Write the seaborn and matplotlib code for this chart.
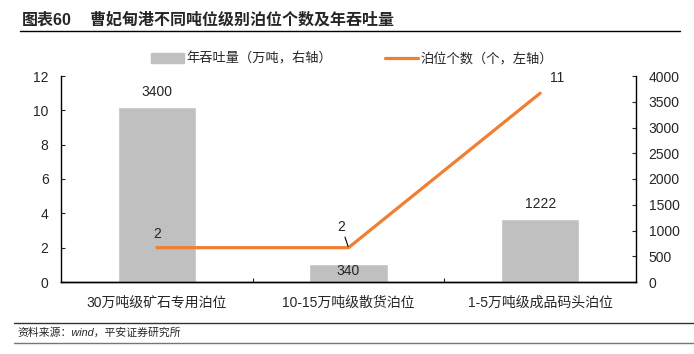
#!/usr/bin/env python3
"""
Caofeidian port: berth counts (line, left axis) and annual throughput (bars, right axis)
"""

import pandas as pd
import matplotlib.pyplot as plt
import seaborn as sns
from matplotlib.lines import Line2D
from matplotlib.patches import Patch

# data
categories = ['30万吨级矿石专用泊位', '10-15万吨级散货泊位', '1-5万吨级成品码头泊位']
throughput = [3400, 340, 1222]      # 万吨, right axis
berth_count = [2, 2, 11]            # 个, left axis
left_ticks = [0, 2, 4, 6, 8, 10, 12]
right_ticks = [0, 500, 1000, 1500, 2000, 2500, 3000, 3500, 4000]

BAR_COLOR = '#C0C0C0'
LINE_COLOR = '#F07F32'

sns.set_style('ticks')
plt.rcParams['font.family'] = ['Liberation Sans', 'Noto Sans CJK SC', 'DejaVu Sans']
plt.rcParams['axes.unicode_minus'] = False

df = pd.DataFrame({'cat': categories, 'throughput': throughput, 'berths': berth_count})
df['pos'] = range(len(df))

fig = plt.figure(figsize=(6.94, 3.54), dpi=100)
ax = fig.add_axes([61 / 694, 1 - 282 / 354, 575 / 694, 206 / 354])
ax2 = ax.twinx()

# bars on right axis
sns.barplot(data=df, x='cat', y='throughput', color=BAR_COLOR, width=0.41,
            saturation=1, ax=ax2, order=categories)
ax2.set_ylim(0, 4000)
ax2.set_yticks(right_ticks)

# line on left axis, drawn above the bars
sns.lineplot(data=df, x='pos', y='berths', color=LINE_COLOR, linewidth=2.3, ax=ax)
ax.set_zorder(ax2.get_zorder() + 1)
ax.patch.set_visible(False)
ax.set_ylim(0, 12)
ax.set_yticks(left_ticks)
ax.set_xlim(-0.5, len(categories) - 0.5)
ax2.set_xlim(-0.5, len(categories) - 0.5)

# bar value labels
for i, v in enumerate(throughput):
    if v < 500:
        ax2.annotate(str(v), (i, v), xytext=(0, 0), textcoords='offset points',
                     ha='center', va='top', fontsize=10)
    else:
        ax2.annotate(str(v), (i, v), xytext=(0, 6), textcoords='offset points',
                     ha='center', va='bottom', fontsize=10)

# line value labels
ax.annotate(str(berth_count[0]), (0, berth_count[0]), xytext=(0, 5),
            textcoords='offset points', ha='center', va='bottom', fontsize=10)
ax.annotate(str(berth_count[1]), (1, berth_count[1]), xytext=(-5, 10),
            textcoords='offset points', ha='center', va='bottom', fontsize=10,
            arrowprops=dict(arrowstyle='-', color='black', lw=0.8, shrinkA=0, shrinkB=1))
ax.annotate(str(berth_count[2]), (2, berth_count[2]), xytext=(12, 6),
            textcoords='offset points', ha='center', va='bottom', fontsize=10)

# axes styling
for a in (ax, ax2):
    a.spines['top'].set_visible(False)
    for s in ('left', 'right', 'bottom'):
        a.spines[s].set_color('black')
        a.spines[s].set_linewidth(1.0)
    a.set_xlabel('')
    a.set_ylabel('')
ax.spines['right'].set_visible(False)
ax2.spines['left'].set_visible(False)
ax.tick_params(axis='y', direction='in', length=3, labelsize=10, pad=9)
ax2.tick_params(axis='y', direction='in', length=3, labelsize=10, pad=9)
ax.set_xticks([0.5, 1.5])
ax.set_xticklabels([])
ax.tick_params(axis='x', direction='in', length=3)
ax2.tick_params(axis='x', length=0, labelbottom=False)
for i, c in enumerate(categories):
    ax.text(i, -0.065, c, transform=ax.get_xaxis_transform(), ha='center',
            va='top', fontsize=10)

# legend
handles = [Patch(color=BAR_COLOR), Line2D([], [], color=LINE_COLOR, lw=2.3)]
labels = ['年吞吐量（万吨，右轴）', '泊位个数（个，左轴）']
fig.legend(handles, labels, loc='center', bbox_to_anchor=(352 / 694, 1 - 59 / 354),
           ncol=2, frameon=False, fontsize=9.5, columnspacing=4.0,
           handlelength=2.5, handletextpad=0.2)

# title and footer
fig.text(22 / 694, 1 - 20 / 354, '图表60', fontsize=11.5, fontweight='bold', va='center')
fig.text(90 / 694, 1 - 20 / 354, '曹妃甸港不同吨位级别泊位个数及年吞吐量', fontsize=11.5,
         fontweight='bold', va='center')
fig.add_artist(Line2D([20 / 694, 680 / 694], [1 - 31 / 354] * 2, color='black', lw=1.0))
fig.add_artist(Line2D([14 / 694, 1.0], [1 - 323 / 354] * 2, color='#333333', lw=1.0))
fig.add_artist(Line2D([14 / 694, 1.0], [1 - 343 / 354] * 2, color='#777777', lw=1.0))
fig.text(17 / 694, 1 - 333 / 354, '资料来源：wind，平安证券研究所', fontsize=7.8,
         style='italic', va='center')

fig.savefig('out.png', dpi=100, facecolor='white')
